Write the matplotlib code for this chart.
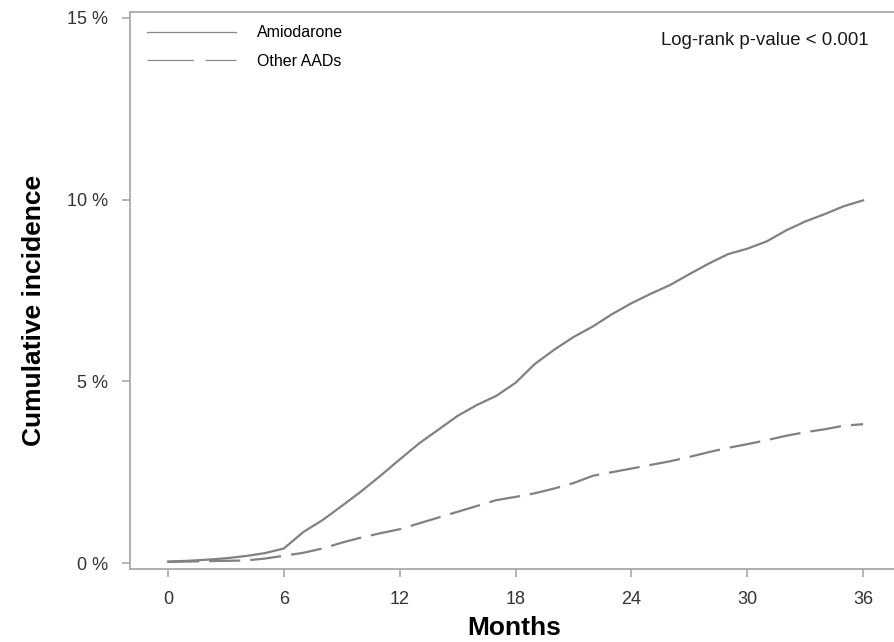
import numpy as np
import matplotlib
matplotlib.use("Agg")
import matplotlib.pyplot as plt

plt.rcParams["font.family"] = ["Liberation Sans", "DejaVu Sans"]

# cumulative incidence (%), one value per month
months = list(range(0, 37))
amiodarone = [0.04, 0.06, 0.09, 0.13, 0.19, 0.27, 0.40, 0.85, 1.18, 1.57,
              1.97, 2.40, 2.85, 3.29, 3.67, 4.05, 4.35, 4.60, 4.96, 5.48,
              5.87, 6.22, 6.51, 6.85, 7.15, 7.41, 7.65, 7.95, 8.24, 8.50,
              8.65, 8.85, 9.15, 9.40, 9.60, 9.82, 9.98]
other_aads = [0.03, 0.04, 0.05, 0.06, 0.07, 0.12, 0.20, 0.28, 0.40, 0.56,
              0.70, 0.82, 0.93, 1.09, 1.25, 1.41, 1.57, 1.73, 1.82, 1.92,
              2.05, 2.20, 2.40, 2.50, 2.60, 2.70, 2.80, 2.92, 3.05, 3.17,
              3.27, 3.38, 3.50, 3.60, 3.68, 3.78, 3.82]

x_ticks = [0, 6, 12, 18, 24, 30, 36]
y_ticks = [0, 5, 10, 15]
y_ticklabels = ["0 %", "5 %", "10 %", "15 %"]

axis_col = "#a6aaae"
curve_col = "#808086"

fig = plt.figure(figsize=(8.94, 6.42), dpi=100)
ax = fig.add_axes([130 / 894, 1 - 569 / 642, 1 - 130 / 894, (569 - 12) / 642])

ax.plot(months, amiodarone, color=curve_col, lw=1.6, label="Amiodarone")
ax.plot(months, other_aads, color=curve_col, lw=1.6,
        linestyle=(0, (14, 4.5)), label="Other AADs")

ax.set_xlim(-1.97, 37.6)
ax.set_ylim(-0.165, 15.165)
ax.set_xticks(x_ticks)
ax.set_yticks(y_ticks)
ax.set_yticklabels(y_ticklabels)

for side in ["left", "bottom", "top"]:
    ax.spines[side].set_color(axis_col)
    ax.spines[side].set_linewidth(1.3)
ax.spines["right"].set_visible(False)
ax.tick_params(axis="both", colors=axis_col, width=1.2, length=5.5,
               labelcolor="#333333", labelsize=13)
ax.tick_params(axis="y", pad=10)
ax.tick_params(axis="x", pad=10)

ax.set_xlabel("Months", fontsize=19, fontweight="bold")
ax.xaxis.set_label_coords(0.503, -0.084)
ax.set_ylabel("Cumulative incidence", fontsize=19, fontweight="bold")
ax.yaxis.set_label_coords(-0.110, 0.465)

leg = ax.legend(loc="upper left", bbox_to_anchor=(0.022, 0.976), frameon=False,
                fontsize=11.5, handlelength=5.6, handletextpad=1.3,
                labelspacing=0.85, borderpad=0, borderaxespad=0)
for ln in leg.get_lines():
    ln.set_linewidth(0.9)
    ln.set_color("#8a8a8e")
leg.get_lines()[1].set_linestyle((0, (37, 9.5)))

ax.text(0.967, 0.941, "Log-rank p-value < 0.001", transform=ax.transAxes,
        ha="right", va="baseline", fontsize=13.4, color="#1a1a1a")

fig.savefig("out.png", dpi=100)
